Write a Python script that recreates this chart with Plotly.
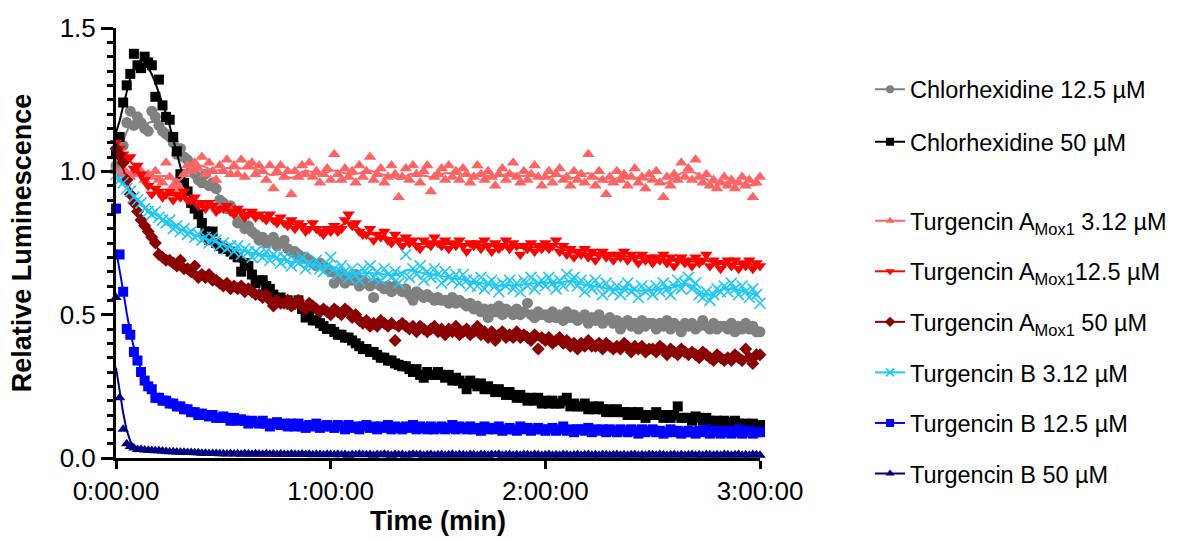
import numpy as np
import plotly.graph_objects as go

# Relative luminescence readings, one value per minute (0 .. 180 min)
SAMPLE_MIN = 1.0

chx_12_5 = [
    1.02, 1.03, 1.09, 1.17, 1.21, 1.16, 1.19, 1.17, 1.15, 1.14,
    1.21, 1.19, 1.16, 1.14, 1.13, 1.12, 1.10, 1.06, 1.08, 1.05,
    1.04, 1.01, 0.99, 0.97, 0.96, 0.99, 0.95, 0.96, 0.94, 0.90,
    0.89, 0.87, 0.88, 0.86, 0.82, 0.83, 0.80, 0.81, 0.79, 0.78,
    0.76, 0.77, 0.75, 0.76, 0.77, 0.74, 0.75, 0.76, 0.73, 0.72,
    0.72, 0.71, 0.70, 0.70, 0.69, 0.68, 0.67, 0.68, 0.67, 0.66,
    0.65, 0.61, 0.63, 0.64, 0.61, 0.63, 0.62, 0.64, 0.60, 0.62,
    0.61, 0.60, 0.56, 0.61, 0.60, 0.59, 0.60, 0.58, 0.60, 0.59,
    0.58, 0.59, 0.57, 0.55, 0.58, 0.57, 0.56, 0.57, 0.56, 0.55,
    0.56, 0.55, 0.55, 0.54, 0.56, 0.54, 0.55, 0.54, 0.53, 0.54,
    0.52, 0.53, 0.51, 0.52, 0.49, 0.52, 0.51, 0.53, 0.50, 0.52,
    0.51, 0.50, 0.52, 0.50, 0.51, 0.54, 0.50, 0.49, 0.51, 0.50,
    0.50, 0.49, 0.51, 0.49, 0.50, 0.48, 0.51, 0.49, 0.50, 0.48,
    0.49, 0.50, 0.47, 0.49, 0.48, 0.50, 0.47, 0.48, 0.49, 0.47,
    0.48, 0.45, 0.47, 0.48, 0.46, 0.47, 0.45, 0.48, 0.46, 0.47,
    0.47, 0.45, 0.47, 0.46, 0.48, 0.45, 0.47, 0.46, 0.44, 0.47,
    0.46, 0.47, 0.45, 0.46, 0.48, 0.46, 0.45, 0.47, 0.45, 0.46,
    0.46, 0.45, 0.47, 0.44, 0.46, 0.45, 0.47, 0.45, 0.46, 0.44,
    0.44,
]

chx_50 = [
    1.06, 1.12, 1.24, 1.30, 1.34, 1.41, 1.37, 1.36, 1.40, 1.38,
    1.37, 1.26, 1.32, 1.23, 1.19, 1.18, 1.12, 1.07, 0.99, 0.96,
    0.93, 0.89, 0.87, 0.85, 0.82, 0.79, 0.76, 0.79, 0.75, 0.74,
    0.73, 0.73, 0.72, 0.71, 0.70, 0.65, 0.68, 0.67, 0.64, 0.61,
    0.62, 0.62, 0.60, 0.59, 0.57, 0.55, 0.56, 0.54, 0.55, 0.535,
    0.54, 0.55, 0.52, 0.49, 0.50, 0.48, 0.48, 0.47, 0.46, 0.45,
    0.45, 0.44, 0.43, 0.43, 0.42, 0.42, 0.41, 0.40, 0.39, 0.38,
    0.38, 0.37, 0.37, 0.36, 0.35, 0.35, 0.34, 0.34, 0.33, 0.325,
    0.32, 0.32, 0.31, 0.30, 0.31, 0.29, 0.28, 0.30, 0.29, 0.29,
    0.30, 0.29, 0.28, 0.29, 0.27, 0.28, 0.27, 0.26, 0.24, 0.27,
    0.26, 0.25, 0.26, 0.24, 0.25, 0.24, 0.23, 0.24, 0.23, 0.22,
    0.23, 0.22, 0.21, 0.22, 0.21, 0.20, 0.21, 0.20, 0.21, 0.19,
    0.20, 0.19, 0.20, 0.19, 0.19, 0.20, 0.21, 0.18, 0.19, 0.18,
    0.18, 0.19, 0.17, 0.18, 0.17, 0.18, 0.17, 0.16, 0.17, 0.16,
    0.17, 0.16, 0.16, 0.15, 0.16, 0.15, 0.16, 0.15, 0.14, 0.15,
    0.15, 0.16, 0.15, 0.14, 0.15, 0.14, 0.15, 0.18, 0.14, 0.14,
    0.14, 0.13, 0.145, 0.14, 0.13, 0.14, 0.13, 0.125, 0.13, 0.12,
    0.13, 0.125, 0.12, 0.13, 0.12, 0.115, 0.12, 0.11, 0.12, 0.115,
    0.115,
]

ta_3_12 = [
    1.00, 0.99, 1.01, 0.99, 0.98, 1.00, 0.99, 1.00, 0.97, 0.99,
    0.98, 1.00, 0.97, 0.96, 1.03, 0.98, 0.95, 0.96, 0.94, 0.99,
    1.02, 1.00, 1.03, 1.01, 1.05, 0.99, 1.03, 1.00, 0.97, 1.02,
    1.00, 1.04, 0.99, 1.02, 0.99, 1.04, 0.98, 1.02, 1.03, 0.99,
    1.02, 1.00, 0.97, 1.02, 0.94, 1.00, 1.02, 0.98, 1.00, 0.92,
    1.00, 0.98, 1.02, 0.99, 1.03, 0.98, 1.00, 0.96, 0.99, 1.01,
    0.97, 1.06, 0.99, 0.97, 1.01, 0.98, 1.00, 0.96, 1.02, 0.98,
    1.00, 1.05, 0.97, 0.99, 1.01, 0.96, 0.98, 1.02, 0.99, 0.91,
    0.98, 1.01, 0.97, 1.02, 0.99, 0.96, 1.00, 1.02, 0.93, 0.98,
    0.99, 1.01, 0.97, 1.02, 0.98, 1.00, 0.97, 1.01, 0.99, 0.96,
    0.98, 1.02, 0.99, 0.97, 1.00, 0.98, 0.95, 0.99, 1.01, 0.97,
    0.99, 1.03, 0.98, 0.96, 1.00, 0.97, 0.99, 1.02, 0.98, 0.95,
    0.98, 1.00, 0.96, 0.99, 1.01, 0.97, 0.98, 0.95, 1.00, 0.97,
    0.99, 0.96, 1.06, 0.98, 0.95, 1.00, 0.97, 0.92, 0.98, 0.96,
    1.00, 0.97, 0.99, 0.95, 0.98, 1.01, 0.96, 0.98, 0.94, 0.99,
    0.97, 1.00, 0.96, 0.91, 0.98, 0.95, 0.99, 0.97, 1.03, 0.98,
    1.01, 0.97, 1.04, 0.98, 0.96, 0.99, 0.95, 0.97, 0.94, 0.96,
    0.98, 0.95, 0.97, 0.94, 0.96, 0.98, 0.95, 0.97, 0.91, 0.96,
    0.98,
]

ta_12_5 = [
    1.10, 1.08, 1.06, 1.04, 1.05, 1.01, 1.02, 0.99, 0.97, 0.95,
    0.92, 0.94, 0.93, 0.91, 0.92, 0.93, 0.90, 0.92, 0.91, 0.93,
    0.90, 0.90, 0.91, 0.88, 0.89, 0.87, 0.89, 0.88, 0.86, 0.87,
    0.87, 0.88, 0.86, 0.85, 0.87, 0.86, 0.84, 0.85, 0.86, 0.84,
    0.85, 0.84, 0.83, 0.85, 0.83, 0.82, 0.84, 0.82, 0.81, 0.83,
    0.80, 0.82, 0.81, 0.79, 0.80, 0.82, 0.80, 0.79, 0.78, 0.80,
    0.79, 0.81, 0.79, 0.80, 0.83, 0.85, 0.81, 0.82, 0.79, 0.78,
    0.78, 0.80, 0.76, 0.78, 0.77, 0.79, 0.76, 0.75, 0.78, 0.76,
    0.74, 0.77, 0.75, 0.76, 0.74, 0.73, 0.76, 0.75, 0.74, 0.77,
    0.75, 0.74, 0.76, 0.73, 0.75, 0.74, 0.76, 0.74, 0.72, 0.75,
    0.74, 0.75, 0.73, 0.76, 0.74, 0.72, 0.75, 0.73, 0.74, 0.76,
    0.73, 0.75, 0.74, 0.71, 0.74, 0.73, 0.75, 0.72, 0.74, 0.73,
    0.75, 0.73, 0.74, 0.76, 0.72, 0.74, 0.71, 0.73, 0.70, 0.72,
    0.71, 0.73, 0.70, 0.72, 0.69, 0.71, 0.72, 0.70, 0.71, 0.69,
    0.71, 0.70, 0.72, 0.69, 0.71, 0.70, 0.68, 0.71, 0.69, 0.70,
    0.68, 0.70, 0.69, 0.71, 0.68, 0.70, 0.67, 0.69, 0.70, 0.68,
    0.69, 0.67, 0.70, 0.68, 0.69, 0.71, 0.67, 0.69, 0.68, 0.66,
    0.68, 0.69, 0.67, 0.69, 0.66, 0.68, 0.67, 0.69, 0.66, 0.68,
    0.67,
]

ta_50 = [
    1.08, 1.06, 1.03, 0.97, 0.92, 0.89, 0.86, 0.83, 0.81, 0.79,
    0.77, 0.75, 0.71, 0.70, 0.69, 0.69, 0.68, 0.67, 0.69, 0.66,
    0.66, 0.65, 0.67, 0.63, 0.64, 0.63, 0.64, 0.62, 0.62, 0.61,
    0.60, 0.61, 0.59, 0.60, 0.59, 0.60, 0.58, 0.59, 0.58, 0.57,
    0.57, 0.56, 0.57, 0.55, 0.53, 0.55, 0.54, 0.54, 0.55, 0.53,
    0.54, 0.55, 0.53, 0.52, 0.54, 0.53, 0.52, 0.51, 0.52, 0.51,
    0.50, 0.52, 0.51, 0.50, 0.52, 0.51, 0.49, 0.50, 0.48, 0.47,
    0.48, 0.46, 0.47, 0.46, 0.48, 0.47, 0.46, 0.47, 0.41, 0.46,
    0.47, 0.46, 0.45, 0.46, 0.44, 0.46, 0.45, 0.44, 0.45, 0.46,
    0.44, 0.45, 0.43, 0.45, 0.44, 0.46, 0.43, 0.44, 0.45, 0.43,
    0.44, 0.46, 0.43, 0.44, 0.42, 0.44, 0.41, 0.43, 0.44, 0.42,
    0.43, 0.42, 0.44, 0.42, 0.43, 0.42, 0.41, 0.43, 0.38, 0.42,
    0.41, 0.42, 0.40, 0.41, 0.42, 0.40, 0.41, 0.39, 0.40, 0.38,
    0.40, 0.39, 0.41, 0.39, 0.39, 0.40, 0.38, 0.40, 0.39, 0.38,
    0.39, 0.38, 0.40, 0.39, 0.37, 0.39, 0.38, 0.39, 0.37, 0.38,
    0.38, 0.37, 0.39, 0.38, 0.36, 0.38, 0.37, 0.36, 0.38, 0.37,
    0.36, 0.37, 0.36, 0.35, 0.37, 0.36, 0.35, 0.34, 0.36, 0.35,
    0.34, 0.35, 0.34, 0.36, 0.35, 0.34, 0.38, 0.35, 0.33, 0.36,
    0.36,
]

tb_3_12 = [
    0.99, 0.97, 0.96, 0.94, 0.93, 0.91, 0.90, 0.89, 0.87, 0.86,
    0.85, 0.86, 0.84, 0.83, 0.82, 0.83, 0.80, 0.81, 0.79, 0.80,
    0.78, 0.79, 0.77, 0.78, 0.76, 0.77, 0.75, 0.77, 0.76, 0.74,
    0.75, 0.73, 0.74, 0.72, 0.74, 0.71, 0.73, 0.72, 0.70, 0.72,
    0.71, 0.70, 0.72, 0.69, 0.71, 0.70, 0.68, 0.70, 0.69, 0.67,
    0.69, 0.68, 0.70, 0.66, 0.68, 0.67, 0.69, 0.66, 0.65, 0.67,
    0.70, 0.66, 0.64, 0.67, 0.65, 0.63, 0.66, 0.64, 0.62, 0.66,
    0.64, 0.67, 0.63, 0.65, 0.62, 0.66, 0.64, 0.63, 0.65, 0.61,
    0.64, 0.71, 0.63, 0.66, 0.64, 0.67, 0.62, 0.65, 0.63, 0.66,
    0.64, 0.61, 0.65, 0.63, 0.62, 0.64, 0.61, 0.64, 0.62, 0.60,
    0.62, 0.60, 0.63, 0.59, 0.61, 0.62, 0.60, 0.58, 0.61, 0.60,
    0.62, 0.59, 0.61, 0.58, 0.62, 0.60, 0.63, 0.59, 0.61, 0.62,
    0.60, 0.63, 0.61, 0.59, 0.62, 0.60, 0.64, 0.61, 0.63, 0.60,
    0.62, 0.58, 0.61, 0.59, 0.62, 0.60, 0.57, 0.61, 0.59, 0.58,
    0.60, 0.57, 0.59, 0.61, 0.58, 0.59, 0.56, 0.60, 0.58, 0.59,
    0.57, 0.60, 0.58, 0.61, 0.59, 0.57, 0.60, 0.62, 0.59, 0.61,
    0.63, 0.59, 0.61, 0.57, 0.56, 0.58, 0.55, 0.57, 0.59, 0.58,
    0.60, 0.58, 0.61, 0.59, 0.57, 0.60, 0.58, 0.56, 0.59, 0.57,
    0.54,
]

tb_12_5 = [
    0.87, 0.71, 0.58, 0.45, 0.43, 0.37, 0.34, 0.30, 0.27, 0.25,
    0.24, 0.21, 0.21, 0.20, 0.20, 0.19, 0.19, 0.18, 0.18, 0.17,
    0.17, 0.16, 0.16, 0.15, 0.155, 0.15, 0.145, 0.15, 0.14, 0.14,
    0.145, 0.14, 0.13, 0.14, 0.13, 0.135, 0.13, 0.12, 0.13, 0.125,
    0.12, 0.13, 0.12, 0.11, 0.12, 0.125, 0.115, 0.12, 0.11, 0.12,
    0.11, 0.12, 0.11, 0.105, 0.115, 0.11, 0.12, 0.105, 0.11, 0.115,
    0.11, 0.105, 0.115, 0.11, 0.10, 0.115, 0.105, 0.11, 0.10, 0.11,
    0.115, 0.105, 0.11, 0.10, 0.11, 0.105, 0.115, 0.10, 0.11, 0.105,
    0.10, 0.11, 0.105, 0.115, 0.10, 0.11, 0.105, 0.10, 0.11, 0.10,
    0.105, 0.11, 0.10, 0.105, 0.115, 0.10, 0.11, 0.105, 0.10, 0.11,
    0.10, 0.105, 0.095, 0.11, 0.10, 0.105, 0.10, 0.11, 0.095, 0.10,
    0.105, 0.10, 0.095, 0.11, 0.10, 0.105, 0.095, 0.10, 0.105, 0.10,
    0.095, 0.10, 0.105, 0.095, 0.10, 0.11, 0.095, 0.10, 0.09, 0.10,
    0.10, 0.095, 0.105, 0.09, 0.10, 0.095, 0.10, 0.09, 0.10, 0.095,
    0.09, 0.10, 0.095, 0.09, 0.10, 0.095, 0.085, 0.10, 0.09, 0.095,
    0.10, 0.09, 0.095, 0.085, 0.09, 0.10, 0.09, 0.095, 0.085, 0.09,
    0.095, 0.09, 0.085, 0.095, 0.09, 0.10, 0.085, 0.09, 0.095, 0.085,
    0.09, 0.095, 0.085, 0.09, 0.10, 0.085, 0.09, 0.095, 0.085, 0.09,
    0.09,
]

tb_50 = [
    0.56, 0.21, 0.10, 0.05, 0.04, 0.035, 0.03, 0.03, 0.028, 0.027,
    0.026, 0.025, 0.025, 0.024, 0.023, 0.022, 0.022, 0.021, 0.02, 0.02,
    0.019, 0.019, 0.018, 0.018, 0.017, 0.017, 0.016, 0.016, 0.016, 0.015,
    0.015, 0.014, 0.016, 0.014, 0.015, 0.013, 0.015, 0.014, 0.013, 0.015,
    0.014, 0.013, 0.015, 0.013, 0.014, 0.012, 0.014, 0.013, 0.012, 0.014,
    0.013, 0.012, 0.014, 0.012, 0.013, 0.011, 0.013, 0.012, 0.011, 0.013,
    0.012, 0.011, 0.013, 0.011, 0.012, 0.010, 0.012, 0.011, 0.013, 0.012,
    0.011, 0.012, 0.010, 0.012, 0.011, 0.013, 0.011, 0.010, 0.012, 0.011,
    0.012, 0.010, 0.011, 0.013, 0.011, 0.012, 0.010, 0.011, 0.012, 0.010,
    0.011, 0.012, 0.010, 0.011, 0.013, 0.010, 0.012, 0.011, 0.010, 0.012,
    0.011, 0.010, 0.012, 0.011, 0.010, 0.012, 0.011, 0.013, 0.010, 0.011,
    0.012, 0.010, 0.011, 0.010, 0.012, 0.011, 0.010, 0.012, 0.011, 0.010,
    0.011, 0.012, 0.010, 0.011, 0.010, 0.012, 0.011, 0.010, 0.011, 0.012,
    0.010, 0.011, 0.012, 0.010, 0.011, 0.010, 0.012, 0.011, 0.010, 0.011,
    0.012, 0.010, 0.011, 0.010, 0.011, 0.012, 0.010, 0.011, 0.010, 0.012,
    0.011, 0.010, 0.012, 0.011, 0.010, 0.011, 0.012, 0.010, 0.011, 0.010,
    0.011, 0.012, 0.010, 0.011, 0.010, 0.012, 0.011, 0.010, 0.011, 0.010,
    0.012, 0.011, 0.010, 0.011, 0.012, 0.010, 0.011, 0.010, 0.012, 0.011,
    0.010,
]

tick_minutes = [0, 60, 120, 180]
tick_labels = ["0:00:00", "1:00:00", "2:00:00", "3:00:00"]

FONT = "Arial, 'Liberation Sans', Helvetica, sans-serif"

# name, values, colour, marker symbol, marker size, legend id
series = [
    ("Chlorhexidine 12.5 µM", chx_12_5, "#808080", "circle", 11, "legend"),
    ("Chlorhexidine 50 µM", chx_50, "#000000", "square", 10, "legend"),
    ("Turgencin A<sub>Mox1</sub> 3.12 µM", ta_3_12, "#FF6464", "triangle-up", 11, "legend2"),
    ("Turgencin A<sub>Mox1</sub>12.5 µM", ta_12_5, "#FF0000", "triangle-down", 11, "legend2"),
    ("Turgencin A<sub>Mox1</sub> 50 µM", ta_50, "#8B0000", "diamond", 10, "legend2"),
    ("Turgencin B 3.12 µM", tb_3_12, "#1EC8F5", "x-thin", 11, "legend2"),
    ("Turgencin B 12.5 µM", tb_12_5, "#0000FF", "square", 10, "legend2"),
    ("Turgencin B 50 µM", tb_50, "#000080", "triangle-up", 10, "legend2"),
]


def smooth(values, sigma=1.6):
    """Gaussian-weighted running mean, renormalised near the ends."""
    v = np.asarray(values, dtype=float)
    n = len(v)
    half = int(np.ceil(3 * sigma))
    offs = np.arange(-half, half + 1)
    w = np.exp(-0.5 * (offs / sigma) ** 2)
    out = np.empty(n)
    for i in range(n):
        idx = i + offs
        ok = (idx >= 0) & (idx < n)
        out[i] = np.sum(v[idx[ok]] * w[ok]) / np.sum(w[ok])
    return out


def marker_style(symbol, size, color):
    if symbol == "x-thin":
        return dict(symbol=symbol, size=size, color=color,
                    line=dict(color=color, width=1.6))
    return dict(symbol=symbol, size=size, color=color, line=dict(width=0))


fig = go.Figure()

for k, (name, vals, color, symbol, size, legend_id) in enumerate(series):
    t = np.arange(len(vals)) * SAMPLE_MIN
    # raw points
    fig.add_trace(go.Scatter(
        x=t, y=vals, mode="markers", showlegend=False, cliponaxis=False,
        marker=marker_style(symbol, size, color), hoverinfo="skip",
    ))
    # smoothed curve through the points
    fig.add_trace(go.Scatter(
        x=t, y=smooth(vals), mode="lines", showlegend=False, cliponaxis=False,
        line=dict(color=color, width=2), hoverinfo="skip",
    ))
    # legend entry: line with marker
    fig.add_trace(go.Scatter(
        x=[None], y=[None], mode="lines+markers", name=name,
        legend=legend_id, legendgroup=f"g{k}",
        line=dict(color=color, width=2),
        marker=marker_style(symbol, 8, color),
    ))

axis_common = dict(
    showline=True, linecolor="black", linewidth=3,
    ticks="outside", tickcolor="black", tickwidth=3,
    showgrid=False, zeroline=False, automargin=False,
    tickfont=dict(family=FONT, size=26, color="black"),
)

legend_common = dict(
    xref="container", yref="container", x=0.7392, xanchor="left",
    yanchor="top", font=dict(family=FONT, size=23.5, color="black"),
    traceorder="grouped", itemwidth=30, bgcolor="rgba(0,0,0,0)",
    maxheight=600,
)

fig.update_layout(
    width=1177, height=540,
    margin=dict(l=116, r=417, t=28, b=82, autoexpand=False),
    paper_bgcolor="white", plot_bgcolor="white",
    font=dict(family=FONT, color="black"),
    xaxis=dict(
        **axis_common, range=[0, 180], ticklen=8,
        tickmode="array", tickvals=tick_minutes, ticktext=tick_labels,
        title=dict(text="<b>Time (min)</b>", standoff=5,
                   font=dict(family=FONT, size=27, color="black")),
    ),
    yaxis=dict(
        **axis_common, range=[0, 1.5], ticklen=12,
        tickmode="linear", tick0=0, dtick=0.5, tickformat=".1f",
        minor=dict(tickmode="linear", tick0=0, dtick=0.05, ticks="outside",
                   ticklen=6, tickwidth=2.5, tickcolor="black"),
        title=dict(text="<b>Relative Luminescence</b>", standoff=21,
                   font=dict(family=FONT, size=27, color="black")),
    ),
    legend=dict(**legend_common, y=0.875, tracegroupgap=19),
    legend2=dict(**legend_common, y=0.6315, tracegroupgap=17),
)

fig.write_html("out.html")
